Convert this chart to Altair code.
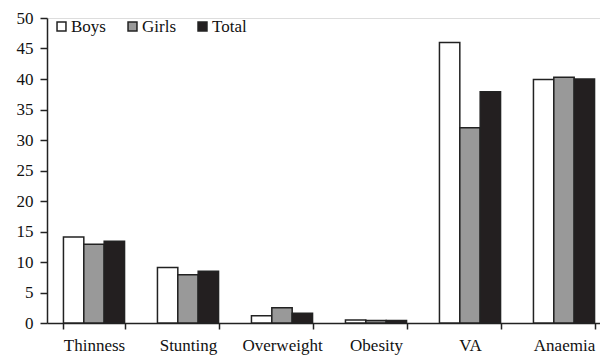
import altair as alt
import pandas as pd

categories = ["Thinness", "Stunting", "Overweight", "Obesity", "VA", "Anaemia"]
groups = ["Boys", "Girls", "Total"]
boys = [14.1, 9.1, 1.2, 0.5, 46.0, 39.9]
girls = [12.9, 7.9, 2.5, 0.4, 32.0, 40.3]
total = [13.4, 8.5, 1.6, 0.4, 37.9, 40.0]
colors = ["#ffffff", "#999999", "#231f20"]

rows = []
for i, c in enumerate(categories):
    for g, vals in zip(groups, [boys, girls, total]):
        rows.append({"category": c, "group": g, "value": vals[i]})
df = pd.DataFrame(rows)

FONT = "'Liberation Serif', 'Times New Roman', serif"

chart = (
    alt.Chart(df)
    .mark_bar(stroke="#222222", strokeWidth=1.5)
    .encode(
        x=alt.X(
            "category:N",
            sort=categories,
            title=None,
            scale=alt.Scale(range=[0, 564], paddingInner=0.35, paddingOuter=0.175),
            axis=alt.Axis(
                labelAngle=0,
                tickBand="extent",
                tickSize=6,
                labelPadding=8,
                labelFontSize=17,
                labelFont=FONT,
                labelColor="#111111",
                domainColor="#222222",
                tickColor="#222222",
                domainWidth=1.5,
                tickWidth=1.5,
            ),
        ),
        xOffset=alt.XOffset("group:N", sort=groups, scale=alt.Scale(paddingInner=0, paddingOuter=0)),
        y=alt.Y(
            "value:Q",
            title=None,
            scale=alt.Scale(domain=[0, 50], nice=False),
            axis=alt.Axis(
                values=list(range(0, 51, 5)),
                grid=False,
                tickSize=7,
                labelPadding=7,
                labelFontSize=17,
                labelFont=FONT,
                labelColor="#111111",
                domainColor="#222222",
                tickColor="#222222",
                domainWidth=1.5,
                tickWidth=1.5,
            ),
        ),
        fill=alt.Fill(
            "group:N",
            sort=groups,
            scale=alt.Scale(domain=groups, range=colors),
            legend=alt.Legend(
                title=None,
                orient="none",
                legendX=6,
                legendY=0,
                direction="horizontal",
                gridAlign="none",
                symbolType="square",
                symbolSize=80,
                symbolStrokeColor="#222222",
                symbolStrokeWidth=1.5,
                labelFont=FONT,
                labelFontSize=17,
                labelColor="#111111",
                labelOffset=1,
                columnPadding=18,
            ),
        ),
    )
    .properties(
        width=553,
        height=305,
        autosize=alt.AutoSizeParams(type="none"),
        padding={"left": 47, "top": 18, "right": 0, "bottom": 33},
    )
    .configure_view(stroke=None)
    .configure(background="white", font=FONT)
)

chart.save("out.html", embed_options={"renderer": "svg", "actions": False})
